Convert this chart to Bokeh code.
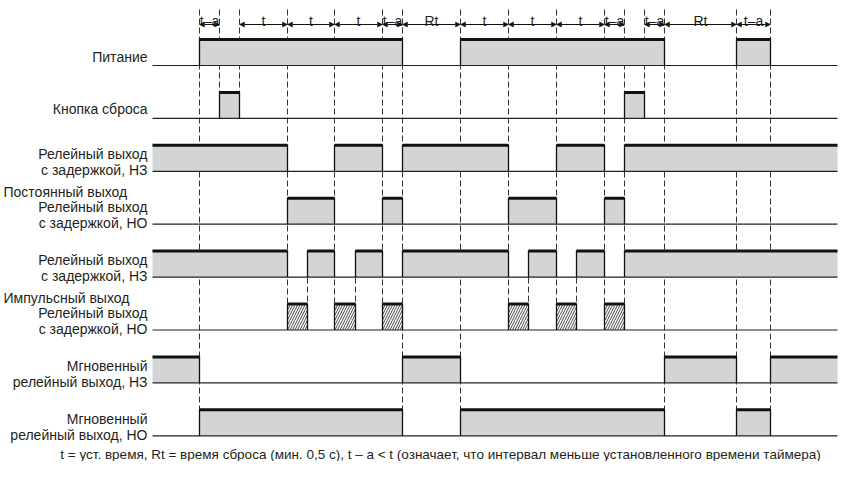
from bokeh.plotting import figure
from bokeh.models import Range1d, ColumnDataSource, Arrow, NormalHead
from bokeh.core.properties import value
from bokeh.embed import file_html
from bokeh.resources import INLINE

# ---------------- data (time axis in arbitrary units, power-on at 0) ----------------
T_START, T_END = -47, 638

power_hi    = [(0, 203), (261, 465), (537, 571)]
reset_hi    = [(20, 40), (425, 445)]
const_nc_hi = [(T_START, 88), (135, 183), (203, 309), (357, 405), (425, T_END)]
const_no_hi = [(88, 135), (183, 203), (309, 357), (405, 425)]
pulse_nc_hi = [(T_START, 88), (108, 135), (156, 183), (203, 309), (329, 357), (377, 405), (425, T_END)]
pulse_no_hi = [(88, 108), (135, 156), (183, 203), (309, 329), (357, 377), (405, 425)]
inst_nc_hi  = [(T_START, 0), (203, 261), (465, 537), (571, T_END)]
inst_no_hi  = [(0, 203), (261, 465), (537, 571)]

signals = [power_hi, reset_hi, const_nc_hi, const_no_hi, pulse_nc_hi, pulse_no_hi, inst_nc_hi, inst_no_hi]
hatched = [False, False, False, False, False, True, False, False]

row_labels = [
    ["Питание"],
    ["Кнопка сброса"],
    ["Релейный выход", "с задержкой, НЗ"],
    ["Релейный выход", "с задержкой, НО"],
    ["Релейный выход", "с задержкой, НЗ"],
    ["Релейный выход", "с задержкой, НО"],
    ["Мгновенный", "релейный выход, НЗ"],
    ["Мгновенный", "релейный выход, НО"],
]
group_labels = ["Постоянный выход", "Импульсный выход"]
group_after_row = [2, 4]

interval_start = [0, 40, 88, 135, 183, 203, 261, 309, 357, 405, 445, 465, 537]
interval_end   = [20, 88, 135, 183, 203, 261, 309, 357, 405, 425, 465, 537, 571]
interval_label = ["t–a", "t", "t", "t", "t–a", "Rt", "t", "t", "t", "t–a", "t–a", "Rt", "t–a"]

# event marker lines
marks_full  = [0, 203, 261, 465, 537, 571]
marks_reset = [20, 40, 445]
marks_delay = [88, 135, 183, 309, 357, 405, 425]
marks_pulse = [108, 156, 329, 377]

caption = ("t = уст. время, Rt = время сброса (мин. 0,5 с), t – a < t "
           "(означает, что интервал меньше установленного времени таймера)")

# ---------------- layout ----------------
ROW0, ROW_STEP, ROW_H = 65.0, 52.9, 26.5
bases = [ROW0 + i * ROW_STEP for i in range(len(signals))]
tops = [b - ROW_H for b in bases]
TOP_Y = 9
ARROW_Y = 24
LABEL_Y = 20

FONT = value("Liberation Sans")
INK = "#231f20"
GRAY = "#d3d4d6"

p = figure(width=838, height=461, x_range=Range1d(-199, 639), y_range=Range1d(461, 0),
           output_backend="svg", toolbar_location=None, min_border=0,
           x_axis_type=None, y_axis_type=None)
p.grid.visible = False
p.outline_line_color = None
p.background_fill_color = "white"

def dashed(times, y0, y1):
    p.segment(x0=times, y0=[y0] * len(times), x1=times, y1=[y1] * len(times),
              line_color="#333333", line_width=1, line_dash="6 3")

dashed(marks_full, TOP_Y, bases[7])
dashed(marks_reset, TOP_Y, bases[1])
dashed(marks_delay, TOP_Y, bases[5])
dashed(marks_pulse, tops[4], bases[5])

for i, sig in enumerate(signals):
    l = [a for a, b in sig]
    r = [b for a, b in sig]
    t = [tops[i]] * len(sig)
    bt = [bases[i]] * len(sig)
    if hatched[i]:
        p.quad(left=l, right=r, top=t, bottom=bt, fill_color="white", line_color=None,
               hatch_pattern="/", hatch_color="#333333", hatch_scale=5, hatch_weight=0.9)
    else:
        p.quad(left=l, right=r, top=t, bottom=bt, fill_color=GRAY, line_color=None)
    p.segment(x0=[T_START], y0=[bases[i]], x1=[T_END], y1=[bases[i]], line_color="#222222", line_width=1.2)
    ex = [x for x in l + r if T_START < x < T_END]
    p.segment(x0=ex, y0=[tops[i]] * len(ex), x1=ex, y1=[bases[i]] * len(ex),
              line_color="#111111", line_width=1.3)
    p.segment(x0=l, y0=[tops[i] + 0.5] * len(sig), x1=r, y1=[tops[i] + 0.5] * len(sig),
              line_color="#111111", line_width=3, line_cap="butt")

lx, ly, lt = [], [], []
for i, lines in enumerate(row_labels):
    if len(lines) == 1:
        lx.append(T_START - 5); ly.append(bases[i] - 9); lt.append(lines[0])
    else:
        lx += [T_START - 5, T_START - 5]
        ly += [bases[i] - 17, bases[i] - 1]
        lt += lines
p.text(x=lx, y=ly, text=lt, text_font=FONT, text_font_size="14px", text_color=INK,
       text_align="right", text_baseline="alphabetic")

gy = [bases[r] + 21 for r in group_after_row]
p.text(x=[-196] * len(group_labels), y=gy, text=group_labels, text_font=FONT,
       text_font_size="14px", text_color=INK, text_align="left", text_baseline="alphabetic")

asrc = ColumnDataSource(dict(xs=interval_start, xe=interval_end,
                             ys=[ARROW_Y] * len(interval_start), ye=[ARROW_Y] * len(interval_start)))
p.add_layout(Arrow(start=NormalHead(size=5, fill_color="#111111", line_color="#111111", line_width=0.5),
                   end=NormalHead(size=5, fill_color="#111111", line_color="#111111", line_width=0.5),
                   x_start="xs", y_start="ys", x_end="xe", y_end="ye", source=asrc,
                   line_color="#111111", line_width=1))
mid = [(a + b) / 2 for a, b in zip(interval_start, interval_end)]
p.text(x=mid, y=[LABEL_Y] * len(mid), text=interval_label, text_font=FONT, text_font_size="14px",
       text_color=INK, text_align="center", text_baseline="alphabetic")

p.text(x=[241], y=[454], text=[caption], text_font=FONT, text_font_size="13.5px",
       text_color=INK, text_align="center", text_baseline="alphabetic")

open("out.html", "w").write(file_html(p, INLINE))
